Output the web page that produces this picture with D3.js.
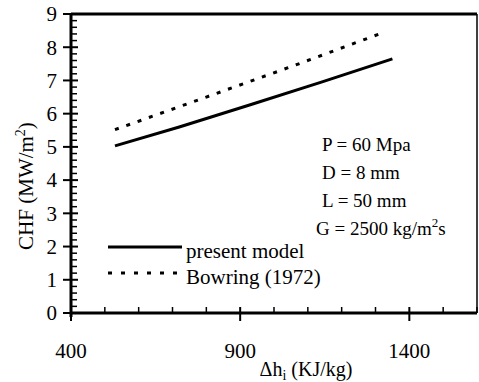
<!DOCTYPE html>
<html>
<head>
<meta charset="utf-8">
<script src="https://cdn.jsdelivr.net/npm/d3@7"></script>
<style>
  body { margin: 0; background: #fff; }
  svg text { font-family: "Liberation Serif", "Times New Roman", serif; fill: #000; }
</style>
</head>
<body>
<svg width="479" height="382"></svg>
<script>
// chart values
const xTickValues = [400, 500, 600, 700, 800, 900, 1000, 1100, 1200, 1300, 1400, 1500, 1600];
const xLabelValues = [400, 900, 1400];
const yLabelValues = [0, 1, 2, 3, 4, 5, 6, 7, 8, 9];
const presentModel = [[530, 5.03], [720, 5.6], [930, 6.27], [1140, 6.95], [1350, 7.65]];
const bowring = [[530, 5.52], [800, 6.5], [1060, 7.45], [1325, 8.45]];
const seriesNames = ["present model", "Bowring (1972)"];
const notes = ["P = 60 Mpa", "D = 8 mm", "L = 50 mm", "G = 2500 kg/m"];

const svg = d3.select("svg"),
    width = +svg.attr("width"),
    height = +svg.attr("height");

const margin = {top: 14, right: 2, bottom: 69, left: 71};

const x = d3.scaleLinear().domain([400, 1600]).range([margin.left, width - margin.right]);
const y = d3.scaleLinear().domain([0, 9]).range([height - margin.bottom, margin.top]);

// frame: heavy left/bottom/top, thin right
svg.append("line")
    .attr("x1", x(1600)).attr("x2", x(1600))
    .attr("y1", y(9)).attr("y2", y(0))
    .attr("stroke", "#000").attr("stroke-width", 1.5);
svg.append("line")
    .attr("x1", x(400)).attr("x2", x(1600))
    .attr("y1", y(9)).attr("y2", y(9))
    .attr("stroke", "#000").attr("stroke-width", 3);

// y axis: major ticks cross the line, minor ones inside
const yMinor = d3.range(0, 9.01, 0.2).filter(v => Math.abs(v - Math.round(v)) > 1e-6);
svg.append("g").selectAll("line").data(yMinor).join("line")
    .attr("x1", x(400)).attr("x2", x(400) + 6)
    .attr("y1", d => y(d)).attr("y2", d => y(d))
    .attr("stroke", "#000").attr("stroke-width", 1.5);
svg.append("g").selectAll("line").data(yLabelValues).join("line")
    .attr("x1", x(400) - 8).attr("x2", x(400) + 7)
    .attr("y1", d => y(d)).attr("y2", d => y(d))
    .attr("stroke", "#000").attr("stroke-width", 2);
svg.append("line")
    .attr("x1", x(400)).attr("x2", x(400))
    .attr("y1", y(9)).attr("y2", y(0) + 4)
    .attr("stroke", "#000").attr("stroke-width", 3);
svg.append("g").selectAll("text").data(yLabelValues).join("text")
    .attr("x", 57).attr("y", d => y(d))
    .attr("dy", "0.35em")
    .attr("text-anchor", "end")
    .style("font-size", "21px")
    .text(d => d);

// x axis
svg.append("g").selectAll("line").data(xTickValues.filter(v => !xLabelValues.includes(v))).join("line")
    .attr("x1", d => x(d)).attr("x2", d => x(d))
    .attr("y1", y(0)).attr("y2", y(0) - 6)
    .attr("stroke", "#000").attr("stroke-width", 1.5);
svg.append("g").selectAll("line").data(xLabelValues).join("line")
    .attr("x1", d => x(d)).attr("x2", d => x(d))
    .attr("y1", y(0) - 6).attr("y2", y(0) + 8)
    .attr("stroke", "#000").attr("stroke-width", 2);
svg.append("line")
    .attr("x1", x(400)).attr("x2", x(1600))
    .attr("y1", y(0)).attr("y2", y(0))
    .attr("stroke", "#000").attr("stroke-width", 3);
svg.append("g").selectAll("text").data(xLabelValues).join("text")
    .attr("x", d => x(d)).attr("y", 358)
    .attr("text-anchor", "middle")
    .style("font-size", "21px")
    .text(d => d);

// axis titles
const xt = svg.append("text")
    .attr("x", 306).attr("y", 376)
    .attr("text-anchor", "middle")
    .style("font-size", "20px");
xt.append("tspan").text("\u0394h");
xt.append("tspan").attr("dy", 4).style("font-size", "14px").text("i");
xt.append("tspan").attr("dy", -4).text(" (KJ/kg)");

const yt = svg.append("text")
    .attr("transform", "translate(33,186) rotate(-90)")
    .attr("text-anchor", "middle")
    .style("font-size", "21px");
yt.append("tspan").text("CHF (MW/m");
yt.append("tspan").attr("dy", -8).style("font-size", "14px").text("2");
yt.append("tspan").attr("dy", 8).text(")");

// series
const line = d3.line().x(d => x(d[0])).y(d => y(d[1]));
svg.append("path").datum(presentModel)
    .attr("d", line)
    .attr("fill", "none").attr("stroke", "#000").attr("stroke-width", 3);
svg.append("path").datum(bowring)
    .attr("d", line)
    .attr("fill", "none").attr("stroke", "#000").attr("stroke-width", 3)
    .attr("stroke-dasharray", "4,8");

// legend
const legend = svg.selectAll(".legend").data(seriesNames).join("g")
    .attr("class", "legend")
    .attr("transform", (d, i) => `translate(108,${247 + i * 26})`);
legend.append("line")
    .attr("x1", 0).attr("x2", 74)
    .attr("stroke", "#000").attr("stroke-width", (d, i) => i ? 3 : 3)
    .attr("stroke-dasharray", (d, i) => i ? "4,9" : null);
legend.append("text")
    .attr("x", 78).attr("y", 11)
    .style("font-size", "21px")
    .text(d => d);

// conditions
const note = svg.append("g").selectAll("text").data(notes).join("text")
    .attr("x", (d, i) => i === 3 ? 316 : 322)
    .attr("y", (d, i) => 151 + i * 28)
    .style("font-size", "19px")
    .text(d => d);
note.filter((d, i) => i === 3).append("tspan").attr("dy", -8).style("font-size", "13px").text("2");
note.filter((d, i) => i === 3).append("tspan").attr("dy", 8).text("s");
</script>
</body>
</html>
